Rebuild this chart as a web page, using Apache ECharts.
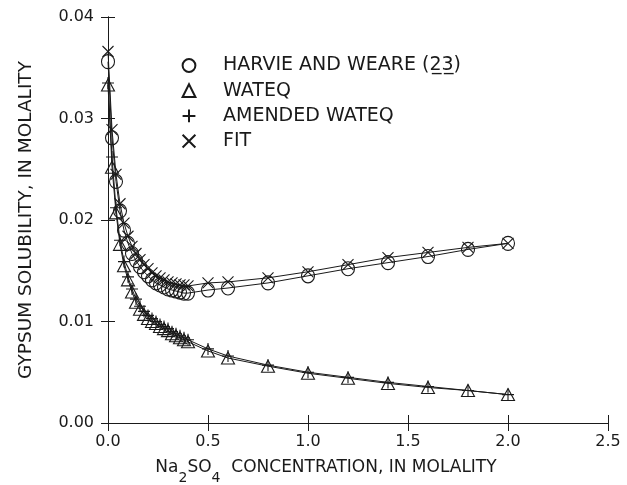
<!DOCTYPE html>
<html>
<head>
<meta charset="utf-8">
<script src="https://cdn.jsdelivr.net/npm/echarts@6/dist/echarts.min.js"></script>
<style>
  html, body { margin: 0; padding: 0; background: #fff; }
  #chart { width: 627px; height: 485px; }
</style>
</head>
<body>
<div id="chart"></div>
<script>
// Na2SO4 concentration (molality) at which gypsum solubility was evaluated
const molality = [0, 0.02, 0.04, 0.06, 0.08, 0.10, 0.12, 0.14, 0.16, 0.18, 0.20,
  0.22, 0.24, 0.26, 0.28, 0.30, 0.32, 0.34, 0.36, 0.38, 0.40,
  0.5, 0.6, 0.8, 1.0, 1.2, 1.4, 1.6, 1.8, 2.0];

// Gypsum solubility (molality) for each model
const harvieWeare = [0.0356, 0.0281, 0.0238, 0.0209, 0.0190, 0.0177, 0.0167, 0.0160, 0.0154, 0.0149, 0.0145,
  0.0141, 0.0138, 0.0136, 0.0134, 0.0132, 0.0131, 0.0130, 0.0129, 0.0128, 0.0128,
  0.0131, 0.0133, 0.0138, 0.0145, 0.0152, 0.0158, 0.0164, 0.0171, 0.0177];

const wateq = [0.0333, 0.0252, 0.0207, 0.0176, 0.0155, 0.0141, 0.0129, 0.0119, 0.0112, 0.0107, 0.0103,
  0.0100, 0.0098, 0.0095, 0.0093, 0.0091, 0.0088, 0.0086, 0.0084, 0.0082, 0.0080,
  0.0071, 0.0064, 0.0056, 0.0049, 0.0044, 0.0039, 0.0035, 0.0032, 0.0028];

const amendedWateq = [0.0335, 0.0262, 0.0212, 0.0180, 0.0159, 0.0144, 0.0132, 0.0122, 0.0115, 0.0110, 0.0106,
  0.0103, 0.0100, 0.0097, 0.0095, 0.0093, 0.0090, 0.0088, 0.0086, 0.0084, 0.0082,
  0.0073, 0.0066, 0.0057, 0.0050, 0.0045, 0.0040, 0.0036, 0.0032, 0.0028];

const fit = [0.0366, 0.0289, 0.0245, 0.0216, 0.0197, 0.0184, 0.0174, 0.0167, 0.0161, 0.0156, 0.0152,
  0.0148, 0.0145, 0.0143, 0.0141, 0.0139, 0.0138, 0.0137, 0.0136, 0.0136, 0.0135,
  0.0138, 0.0139, 0.0143, 0.0149, 0.0156, 0.0163, 0.0168, 0.0173, 0.0177];

const xTickLabels = ['0.0', '0.5', '1.0', '1.5', '2.0', '2.5'];
const yTickLabels = ['0.00', '0.01', '0.02', '0.03', '0.04'];

const seriesNames = ['HARVIE AND WEARE (2\u03323\u0332)', 'WATEQ', 'AMENDED WATEQ', 'FIT'];

const FONT = '"DejaVu Sans", sans-serif';
const INK = '#1a1a1a';

const PLUS = 'path://M0,6L12,6M6,0L6,12';
const CROSS = 'path://M0,0L12,12M12,0L0,12';

function pairs(values) {
  return molality.map((x, i) => [x, values[i]]);
}

function lineSeries(name, values, symbol, size) {
  return {
    name: name,
    type: 'line',
    data: pairs(values),
    symbol: symbol,
    symbolSize: size,
    showAllSymbol: true,
    lineStyle: { color: INK, width: 1 },
    itemStyle: { color: 'rgba(0,0,0,0)', borderColor: INK, borderWidth: 1.1 },
    emphasis: { disabled: true },
    z: 2
  };
}

const chart = echarts.init(document.getElementById('chart'), null, { renderer: 'canvas' });

const axisLine = { show: true, lineStyle: { color: INK, width: 1 } };

chart.setOption({
  animation: false,
  backgroundColor: '#fff',
  grid: { left: 108, right: 19, top: 17, bottom: 62, containLabel: false, outerBoundsMode: 'none' },
  legend: {
    orient: 'vertical',
    left: 176,
    top: 51,
    itemWidth: 14,
    itemHeight: 16,
    itemGap: 6.2,
    selectedMode: false,
    lineStyle: { opacity: 0 },
    textStyle: { fontFamily: FONT, fontSize: 19, color: INK, lineHeight: 16, padding: [0, 0, 0, 22] },
    data: seriesNames
  },
  xAxis: [{
    type: 'value',
    min: 0, max: 2.5, interval: 0.5,
    name: '{a|Na}{s|2}{a|SO}{s|4}{a|  CONCENTRATION, IN MOLALITY}',
    nameLocation: 'middle',
    nameGap: 36,
    nameTextStyle: {
      padding: [0, 64, 0, 0],
      rich: {
        a: { fontFamily: FONT, fontSize: 17, color: INK, lineHeight: 22, verticalAlign: 'top' },
        s: { fontFamily: FONT, fontSize: 14, color: INK, lineHeight: 14, padding: [12, 0, 0, 0], verticalAlign: 'top' }
      }
    },
    axisLine: axisLine,
    axisTick: { show: true, inside: true, length: 8, lineStyle: { color: INK } },
    axisLabel: {
      fontFamily: FONT, fontSize: 16, color: INK, margin: 11,
      formatter: v => xTickLabels[Math.round(v / 0.5)]
    },
    splitLine: { show: false }
  }, {
    type: 'value',
    position: 'top',
    min: 0, max: 2.5, interval: 0.5,
    axisLine: axisLine,
    axisTick: { show: true, inside: true, length: 8, lineStyle: { color: INK } },
    axisLabel: { show: false },
    splitLine: { show: false }
  }],
  yAxis: [{
    type: 'value',
    min: 0, max: 0.04, interval: 0.01,
    name: 'GYPSUM SOLUBILITY, IN MOLALITY',
    nameLocation: 'middle',
    nameGap: 72,
    nameTextStyle: { fontFamily: FONT, fontSize: 18.5, color: INK },
    axisLine: axisLine,
    axisTick: { show: true, inside: true, length: 7, lineStyle: { color: INK } },
    axisLabel: {
      fontFamily: FONT, fontSize: 16, color: INK, margin: 14,
      formatter: v => yTickLabels[Math.round(v / 0.01)]
    },
    splitLine: { show: false }
  }, {
    type: 'value',
    position: 'right',
    min: 0, max: 0.04, interval: 0.01,
    axisLine: axisLine,
    axisTick: { show: true, inside: true, length: 7, lineStyle: { color: INK } },
    axisLabel: { show: false },
    splitLine: { show: false }
  }],
  series: [
    lineSeries(seriesNames[0], harvieWeare, 'circle', [13, 14]),
    lineSeries(seriesNames[1], wateq, 'triangle', [13, 12]),
    lineSeries(seriesNames[2], amendedWateq, PLUS, 12),
    lineSeries(seriesNames[3], fit, CROSS, 11)
  ]
});
</script>
</body>
</html>
